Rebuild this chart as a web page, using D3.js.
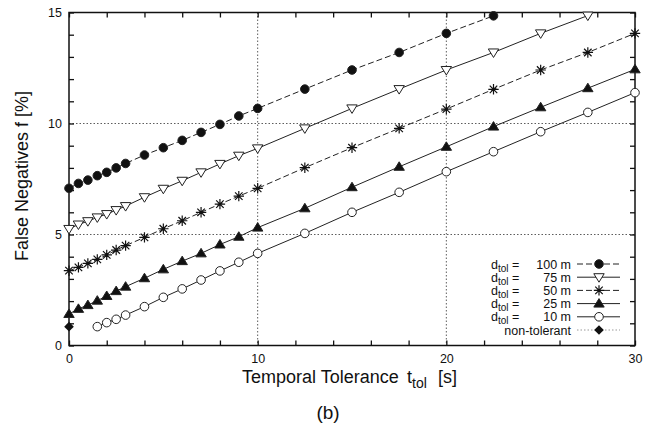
<!DOCTYPE html>
<html>
<head>
<meta charset="utf-8">
<script src="https://cdn.jsdelivr.net/npm/d3@7"></script>
<style>
  body { margin: 0; background: #fff; }
  text { font-family: "Liberation Sans", Arial, sans-serif; fill: #111; }
  .axis line { stroke: #111; stroke-width: 1.3; }
  .axis text { font-size: 12.5px; }
  .grid { stroke: #333; stroke-width: 0.8; stroke-dasharray: 1.5 2; }
</style>
</head>
<body>
<svg id="chart" width="668" height="427"></svg>
<script>
// temporal tolerance values (s)
const tol = [0, 0.5, 1, 1.5, 2, 2.5, 3, 4, 5, 6, 7, 8, 9, 10, 12.5, 15, 17.5, 20, 22.5, 25, 27.5, 30]

// false negatives (%) per spatial tolerance
const d100 = [7.08, 7.3, 7.45, 7.65, 7.8, 8.0, 8.2, 8.58, 8.91, 9.24, 9.6, 9.96, 10.34, 10.68, 11.55, 12.41, 13.2, 14.06, 14.85]
const d75 = [5.25, 5.45, 5.6, 5.77, 5.92, 6.1, 6.28, 6.68, 7.06, 7.42, 7.8, 8.18, 8.55, 8.88, 9.78, 10.68, 11.55, 12.41, 13.2, 14.06, 14.86]
const d50 = [3.37, 3.52, 3.7, 3.88, 4.08, 4.3, 4.5, 4.87, 5.26, 5.62, 6.0, 6.37, 6.73, 7.08, 8.01, 8.91, 9.78, 10.65, 11.54, 12.41, 13.2, 14.06]
const d25 = [1.42, 1.65, 1.82, 2.02, 2.23, 2.45, 2.65, 3.03, 3.43, 3.8, 4.15, 4.55, 4.9, 5.31, 6.18, 7.13, 8.05, 8.95, 9.86, 10.73, 11.59, 12.44]
const d10 = [0.85, 1.03, 1.18, 1.37, 1.75, 2.17, 2.55, 2.95, 3.36, 3.75, 4.15, 5.05, 6.0, 6.9, 7.83, 8.73, 9.63, 10.5, 11.39]
const nonTol = [0.85]

const xTicks = d3.range(0, 31, 2)
const yTicks = d3.range(0, 16, 1)
const xLabels = [0, 10, 20, 30]
const yLabels = [0, 5, 10, 15]

const series = [
  { label: '100 m', tol: true, x: tol, y: d100, dash: '6 3', marker: 'circleFill' },
  { label: '75 m', tol: true, x: tol, y: d75, dash: null, marker: 'triDown' },
  { label: '50 m', tol: true, x: tol, y: d50, dash: '6 3', marker: 'star' },
  { label: '25 m', tol: true, x: tol, y: d25, dash: null, marker: 'triUp' },
  { label: '10 m', tol: true, x: tol.slice(3), y: d10, dash: null, marker: 'circleOpen' },
  { label: 'non-tolerant', tol: false, x: [0], y: nonTol, dash: '1.5 2', marker: 'diamond' }
]

const margins = { top: 12.5, right: 33, bottom: 81.5, left: 69 }
const width = 668, height = 427
const innerWidth = width - margins.left - margins.right
const innerHeight = height - margins.top - margins.bottom

const x = d3.scaleLinear().domain([0, 30]).range([0, innerWidth])
const y = d3.scaleLinear().domain([0, 15]).range([innerHeight, 0])

const svg = d3.select('#chart')
  .append('g')
  .attr('transform', `translate(${margins.left}, ${margins.top})`)

// grid
svg.append('g').selectAll('line')
  .data([10, 20])
  .join('line')
  .attr('class', 'grid')
  .attr('x1', d => x(d)).attr('x2', d => x(d))
  .attr('y1', 0).attr('y2', innerHeight)
svg.append('g').selectAll('line')
  .data([5, 10])
  .join('line')
  .attr('class', 'grid')
  .attr('x1', 0).attr('x2', innerWidth)
  .attr('y1', d => y(d)).attr('y2', d => y(d))

// axes, ticks pointing inward on all four sides
const fmtX = d => xLabels.includes(d) ? d : ''
const fmtY = d => yLabels.includes(d) ? d : ''

svg.append('g')
  .attr('class', 'axis')
  .attr('transform', `translate(0, ${innerHeight})`)
  .call(d3.axisBottom(x).tickValues(xTicks).tickSize(-5).tickSizeOuter(0).tickPadding(9).tickFormat(fmtX))
svg.append('g')
  .attr('class', 'axis')
  .call(d3.axisTop(x).tickValues(xTicks).tickSize(-5).tickSizeOuter(0).tickFormat(''))
svg.append('g')
  .attr('class', 'axis')
  .call(d3.axisLeft(y).tickValues(yTicks).tickSize(-5).tickSizeOuter(0).tickPadding(7).tickFormat(fmtY))
svg.append('g')
  .attr('class', 'axis')
  .attr('transform', `translate(${innerWidth}, 0)`)
  .call(d3.axisRight(y).tickValues(yTicks).tickSize(-5).tickSizeOuter(0).tickFormat(''))
svg.selectAll('.domain').remove()
// drop the empty labels of minor ticks
svg.selectAll('.axis text').filter(function () { return this.textContent === '' }).remove()

svg.append('rect')
  .attr('width', innerWidth)
  .attr('height', innerHeight)
  .attr('fill', 'none')
  .attr('stroke', '#111')
  .attr('stroke-width', 1.5)

function drawMarker(g, type, cx, cy) {
  if (type === 'circleFill' || type === 'circleOpen') {
    g.append('circle')
      .attr('cx', cx).attr('cy', cy).attr('r', 4.3)
      .attr('fill', type === 'circleFill' ? '#111' : '#fff')
      .attr('stroke', '#222').attr('stroke-width', 1)
  } else if (type === 'triDown' || type === 'triUp') {
    const s = type === 'triDown' ? 1 : -1
    const pts = [[cx - 5.2, cy - 3.5 * s], [cx + 5.2, cy - 3.5 * s], [cx, cy + 5 * s]]
    g.append('path')
      .attr('d', d3.line()(pts) + 'Z')
      .attr('fill', type === 'triDown' ? '#fff' : '#111')
      .attr('stroke', '#222').attr('stroke-width', 1)
  } else if (type === 'star') {
    const r = 5.2, q = r * 0.72
    g.append('path')
      .attr('d', `M${cx - r},${cy}H${cx + r}M${cx},${cy - r}V${cy + r}` +
        `M${cx - q},${cy - q}L${cx + q},${cy + q}M${cx - q},${cy + q}L${cx + q},${cy - q}`)
      .attr('stroke', '#111').attr('stroke-width', 1.2)
  } else if (type === 'diamond') {
    const r = 4.8
    g.append('path')
      .attr('d', `M${cx},${cy - r}L${cx + r},${cy}L${cx},${cy + r}L${cx - r},${cy}Z`)
      .attr('fill', '#111')
  }
}

// clip lines to the plot frame
d3.select('#chart').append('defs').append('clipPath').attr('id', 'clip')
  .append('rect').attr('width', innerWidth).attr('height', innerHeight)

const line = d3.line().x(d => x(d[0])).y(d => y(d[1]))
const plot = svg.append('g')

series.forEach(s => {
  const pts = s.x.slice(0, s.y.length).map((t, i) => [t, s.y[i]])
  plot.append('path')
    .attr('clip-path', 'url(#clip)')
    .attr('d', line(pts))
    .attr('fill', 'none')
    .attr('stroke', s.marker === 'diamond' ? '#999' : '#222')
    .attr('stroke-width', 1)
    .attr('stroke-dasharray', s.dash)
  const mg = plot.append('g')
  pts.forEach(p => drawMarker(mg, s.marker, x(p[0]), y(p[1])))
})

// legend
const legend = d3.select('#chart').append('g')
series.forEach((s, i) => {
  const ly = 264 + i * 13.2
  if (s.tol) {
    const t = legend.append('text')
      .attr('x', 491).attr('y', ly + 4.5)
      .style('font-size', '12.5px')
    t.append('tspan').text('d')
    t.append('tspan').attr('dy', 3).style('font-size', '10px').text('tol')
    t.append('tspan').attr('dy', -3).text(' =')
  }
  legend.append('text')
    .attr('x', 571).attr('y', ly + 4.5)
    .attr('text-anchor', 'end')
    .style('font-size', '12.5px')
    .text(s.label)
  legend.append('line')
    .attr('x1', 577).attr('x2', 620)
    .attr('y1', ly).attr('y2', ly)
    .attr('stroke', s.marker === 'diamond' ? '#999' : '#222')
    .attr('stroke-width', 1)
    .attr('stroke-dasharray', s.dash)
  drawMarker(legend, s.marker, 599, ly)
})

// axis titles
const xt = d3.select('#chart').append('text')
  .attr('x', 242).attr('y', 383)
  .style('font-size', '18px')
xt.append('tspan').text('Temporal Tolerance')
xt.append('tspan').attr('x', 407).text('t')
xt.append('tspan').attr('dy', 5).style('font-size', '14px').text('tol')
xt.append('tspan').attr('x', 438).attr('dy', -5).text('[s]')

d3.select('#chart').append('text')
  .attr('transform', 'translate(28, 176) rotate(-90)')
  .attr('text-anchor', 'middle')
  .style('font-size', '18px')
  .text('False Negatives f [%]')

d3.select('#chart').append('text')
  .attr('x', 328).attr('y', 419)
  .attr('text-anchor', 'middle')
  .style('font-size', '19px')
  .text('(b)')
</script>
</body>
</html>
